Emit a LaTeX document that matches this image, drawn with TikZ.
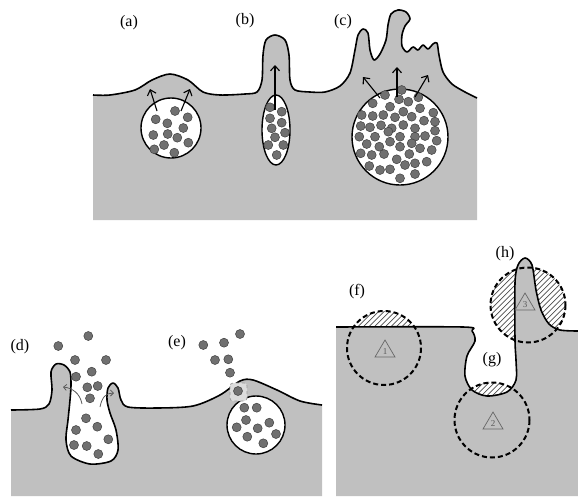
\documentclass[tikz,border=0pt]{standalone}
\usepackage{fontspec}
\setmainfont{Liberation Serif}
\usetikzlibrary{arrows.meta}

\definecolor{tissue}{RGB}{192,192,192}
\definecolor{ballgray}{RGB}{112,112,112}

\tikzset{
  surface/.style={line width=1.6pt, line join=round},
  ball/.style={fill=ballgray, draw=black!75, line width=0.5pt},
  vesicle/.style={fill=white, draw=black, line width=1.4pt},
  push/.style={line width=1.1pt, -{Straight Barb[length=5pt,width=9pt]}},
  leak/.style={line width=0.8pt, black!65, -{Straight Barb[length=3pt,width=6pt]}},
  zone/.style={line width=2pt, dash pattern=on 5pt off 3pt},
  hatchline/.style={line width=0.7pt, black!70},
  tag/.style={font=\fontsize{16}{18}\selectfont, inner sep=0pt},
}

% small numbered warning triangle
\newcommand{\marker}[3]{%
  \draw[black!60, line width=0.7pt] (#1-10,#2+7) -- (#1+10,#2+7) -- (#1,#2-10) -- cycle;
  \node[black!65, font=\fontsize{9}{9}\selectfont, inner sep=0pt] (mark#3) at (#1,#2+1.5) {#3};}

% membrane outlines
\def\topline{plot[smooth,tension=.5] coordinates {(93,95) (110,95) (135,90) (152,80) (170,74)
  (188,80) (203,92) (220,95) (245,94) (257,92) (262,80) (263,55) (266,40) (275,35) (285,40)
  (289,55) (290,80) (295,90) (310,92) (325,92) (340,86) (350,73) (355,50) (358,35) (363,29)
  (368,33) (370,50) (374,60) (380,54) (386,40) (388,25) (391,14) (398,10) (406,12) (410,19)
  (405,26) (402,35) (402,46) (407,52) (413,47) (418,50) (423,45) (428,49) (433,44) (437,43)
  (439,55) (443,72) (452,84) (465,92) (477,98)}}
\def\leftline{plot[smooth,tension=.5] coordinates {(11,410) (40,409) (49,404) (52,390) (51,372)
  (56,364) (64,365) (70,372) (71,385) (70,400) (68,420) (66,440) (71,456) (90,464) (111,461)
  (118,450) (116,430) (110,413) (107,400) (108,388) (113,383) (118,388) (121,400) (128,407)
  (157,408) (193,406) (220,395) (240,381) (253,380) (277,390) (300,401) (322,405)}}
\def\rightline{plot[smooth,tension=.5] coordinates {(336,327) (463,327) (472,331) (475,341)
  (467,356) (465,376) (472,390) (487,396) (507,392) (516,380) (516,360) (515,340) (515,283)
  (518,265) (525,258) (532,265) (536,290) (541,310) (549,324) (560,330) (578,331)}}

\begin{document}
\begin{tikzpicture}[x=1pt,y=-1pt]
\useasboundingbox (0,0) rectangle (578,496);

%% upper panel
\fill[tissue] \topline -- (477,220) -- (93,220) -- cycle;
\draw[surface] \topline;

\draw[vesicle] (171,128) circle (30);
\draw[vesicle] (276,130) ellipse [x radius=14, y radius=35];
\draw[vesicle] (400,137) circle (48);

\foreach \x/\y in {155.7/119.3, 175/111, 187.7/117.3, 167.3/123.3, 183.3/128, 153.3/135,
  167.7/134, 177.3/137.7, 164/145, 188.3/142.7, 154.3/149.3, 174.3/152.7}
  \draw[ball] (\x,\y) circle (4.5);

\foreach \x/\y in {270/107.3, 281.7/111.7, 270/118.3, 281.7/122.7, 271.7/128.3, 285/132.7,
  275/137.3, 268.3/145, 283.3/145, 276.7/155}
  \draw[ball] (\x,\y) circle (4.5);

\foreach \x/\y in {401.7/90, 385/95, 418.3/97.3, 372.7/103.3, 399/99.3, 408.3/101.7, 390/106.7,
  420/108.3, 403.3/111.7, 361.7/115, 372.7/116, 383.3/115, 395/117.3, 411.7/116.7, 433.3/112.7,
  360.7/126, 370/127.3, 381/125.3, 391.7/128.3, 403.3/125, 415/128.3, 424/120.7, 435/121.7,
  359.3/136.7, 375/136.7, 388.3/131.7, 400/136.7, 415/136.7, 425/136, 435/130.7, 436.7/140.7,
  366.7/144, 379.3/146.7, 390/141.7, 400/146.7, 411.7/143.3, 420/148.3, 431.7/150,
  360.7/153.3, 371.7/155, 384/154, 396.7/159.3, 409.3/154, 426.7/161.7,
  369.3/166, 380/170, 390/169.3, 405/165, 415/163.3, 400/178.3, 415/174}
  \draw[ball] (\x,\y) circle (4.5);

\draw[push] (157,111) -- (150,89);
\draw[push] (181,111) -- (190,89);
\draw[push] (275,110) -- (275,65);
\draw[push] (380,98) -- (363,77);
\draw[push] (397,97) -- (397,67);
\draw[push] (415,97) -- (428,75);

\node[tag] (la) at (129,23) {(a)};
\node[tag] (lb) at (245,21) {(b)};
\node[tag] (lc) at (343,22) {(c)};

%% lower left panel
\fill[tissue] \leftline -- (322,496) -- (11,496) -- cycle;
\draw[surface] \leftline;

\draw[leak] (82,404) .. controls (80,393) and (72,388) .. (63,387);
\draw[leak] (100,407) .. controls (102,397) and (106,393) .. (114,393);

\foreach \x/\y in {88.3/336, 58.3/346, 75/360, 106/360, 91.7/371.7, 76/376.7, 87.3/387.3,
  97.7/386, 90/398.3, 86/418.3, 97.3/426.7, 76/430, 108.3/439.3, 74/445, 86.7/446, 98.3/454}
  \draw[ball] (\x,\y) circle (4.5);

\draw[vesicle] (256,425) circle (29);
\draw[black!40, dashed, fill=tissue!55, line width=0.7pt, rounded corners=3pt]
  (230,383) rectangle (247,401);

\foreach \x/\y in {240/334, 203.3/345, 224/342.7, 215/360, 228.3/359.3, 230/372.7, 238/391,
  244.3/407.7, 256.7/407.7, 246/420, 236.7/427.3, 257.7/428.3, 269.3/422.7, 247.3/436.7,
  276/434, 263.3/443.3}
  \draw[ball] (\x,\y) circle (4.5);

\node[tag] (ld) at (20,347) {(d)};
\node[tag] (le) at (177,343) {(e)};

%% lower right panel
\begin{scope}
  \clip (384,348) circle (37) (492,420) circle (37.5) (528,305) circle (37.5);
  \foreach \k in {80,85.5,...,590}
    \draw[hatchline] (\k,500) -- (\k+260,240);
\end{scope}
\fill[tissue] \rightline -- (578,496) -- (336,496) -- cycle;
\draw[surface] \rightline;

\draw[zone] (384,348) circle (37);
\draw[zone] (492,420) circle (37.5);
\draw[zone] (528,305) circle (37.5);

\marker{385}{350}{1}
\marker{493}{422}{2}
\marker{525}{303}{3}

\node[tag] (lf) at (357,292) {(f)};
\node[tag] (lg) at (492,360) {(g)};
\node[tag] (lh) at (505,254) {(h)};

\end{tikzpicture}
\end{document}
